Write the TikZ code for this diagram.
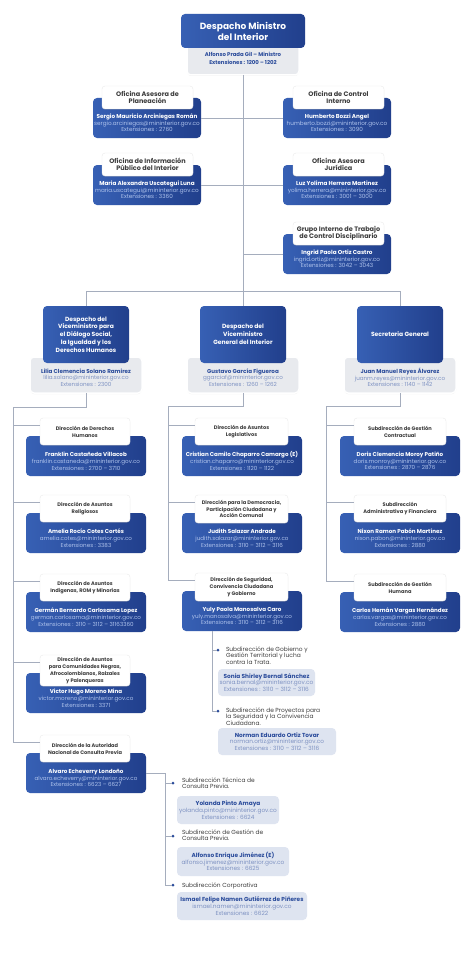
\documentclass[tikz,border=0pt]{standalone}
\usepackage{fontspec}
\setmainfont{Poppins}
\usetikzlibrary{shadows}
\definecolor{dblueL}{HTML}{3760B4}
\definecolor{dblueR}{HTML}{213F8C}
\definecolor{lblue}{HTML}{AFC3EC}
\definecolor{tblue}{HTML}{2B4C9B}
\definecolor{mblue}{HTML}{7E92C2}
\definecolor{conncol}{HTML}{A5ADBD}
\definecolor{greyf}{HTML}{E8EAEE}
\definecolor{subf}{HTML}{DEE4F0}
\definecolor{tabtxt}{HTML}{3D3D3D}
\newcommand\rowtabfont{\fontsize{6.5}{7.2}\selectfont\bfseries}
\newcommand\coltabfont{\fontsize{5.1}{6.8}\selectfont\bfseries}
\newcommand\pb[3]{\textbf{#1}\\{\color{lblue}#2}\\{\color{lblue}Extensiones : #3}}
\newcommand\pl[3]{{\color{tblue}\bfseries #1}\\{\color{mblue}#2}\\{\color{mblue}Extensiones : #3}}
\tikzset{
  every node/.style={inner sep=0pt, outer sep=0pt},
  bluebox/.style={rounded corners=4pt, left color=dblueL, right color=dblueR, draw=none},
  tabbox/.style={rounded corners=3pt, fill=white, draw=black!8, line width=0.4pt, text=tabtxt, align=center,
    drop shadow={opacity=0.18, shadow xshift=0pt, shadow yshift=-0.9pt}},
  greybox/.style={rounded corners=4pt, fill=greyf, draw=white, line width=1.5pt,
    drop shadow={opacity=0.15, shadow xshift=0pt, shadow yshift=-1pt}},
  subbox/.style={rounded corners=4pt, fill=subf, align=center, font=\fontsize{5.8}{6.8}\selectfont},
  conn/.style={draw=conncol, line width=0.6pt},
  dotn/.style={circle, fill=tblue, minimum size=3pt},
  rptxt/.style={align=center, text=white, font=\fontsize{5.7}{6.6}\selectfont},
  cptxt/.style={align=center, text=white, font=\fontsize{5.6}{6.8}\selectfont},
  lptxt/.style={align=center, font=\fontsize{5.6}{6.6}\selectfont},
  subtxt/.style={align=left, text=tabtxt, font=\fontsize{5.9}{6.6}\selectfont},
  vicetxt/.style={align=center, text=white, font=\fontsize{6.0}{7.7}\selectfont\bfseries},
}
% row unit: #1 name, #2 tab x, #3 body x, #4 top y, #5 tab text, #6 person
\newcommand\rowunit[6]{%
  \node[bluebox,anchor=north west,minimum width=108pt,minimum height=40pt] (#1b) at (#3,#4+12) {};
  \node[tabbox,anchor=north west,minimum width=91pt,minimum height=23pt,font=\rowtabfont] (#1t) at (#2,#4) {#5};
  \node[rptxt] (#1p) at (#3+54,#4+37) {#6};}
% column unit: #1 name, #2 tab x, #3 tab w, #4 body x, #5 tab top, #6 tab h, #7 tab text, #8 person
\newcommand\colunit[8]{%
  \node[bluebox,anchor=north west,minimum width=120pt,minimum height=40pt] (#1b) at (#4,#5+18) {};
  \node[tabbox,anchor=north west,minimum width=#3pt,minimum height=#6pt,font=\coltabfont] (#1t) at (#2,#5) {#7};
  \node[cptxt] (#1p) at (#4+60,#5+43) {#8};
  \coordinate (#1c) at ([yshift=-7pt]#1t.north west);}
\begin{document}
\begin{tikzpicture}[x=1pt,y=-1pt]
\useasboundingbox (0,0) rectangle (474,955);
\fill[white] (0,0) rectangle (474,955);

% ---- Minister
\node[greybox,anchor=north,minimum width=112pt,minimum height=31pt] (mg) at (243,44) {};
\node[bluebox,anchor=north,minimum width=124pt,minimum height=34pt,align=center,text=white,
  font=\fontsize{9.0}{11}\selectfont\bfseries] (mb) at (243,14) {Despacho Ministro\\del Interior};
\node[align=center,text=tblue,font=\fontsize{5.4}{7.6}\selectfont\bfseries] (mgt) at (243,58.5)
  {Alfonso Prada Gil – Ministro\\Extensiones : 1200 – 1202};
\coordinate (hub) at (243,291);

% ---- Offices
\rowunit{o1}{102}{93}{86}{Oficina Asesora de\\Planeación}
  {\pb{Sergio Mauricio Arciniegas Román}{sergio.arciniegas@mininterior.gov.co}{2760}}
\rowunit{o2}{293}{283}{86}{Oficina de Control\\Interno}
  {\pb{Humberto Bozzi Angel}{humberto.bozzi@mininterior.gov.co}{3090}}
\rowunit{o3}{102}{93}{153}{Oficina de Información\\Público del Interior}
  {\pb{Maria Alexandra Uscategui Luna}{maria.uscategui@mininterior.gov.co}{3360}}
\rowunit{o4}{293}{283}{153}{Oficina Asesora\\Jurídica}
  {\pb{Luz Yolima Herrera Martinez}{yolima.herrera@mininterior.gov.co}{3001 – 3000}}
\rowunit{o5}{293}{283}{222}{Grupo Interno de Trabajo\\de Control Disciplinario}
  {\pb{Ingrid Paola Ortiz Castro}{ingrid.ortiz@mininterior.gov.co}{3042 – 3043}}

\draw[conn] (mg.south) -- (hub);
\draw[conn] (o1b.east) -- (o1b.east -| hub);
\draw[conn] (o2b.west) -- (o2b.west -| hub);
\draw[conn] (o3b.east) -- (o3b.east -| hub);
\draw[conn] (o4b.west) -- (o4b.west -| hub);
\draw[conn] (o5b.west) -- (o5b.west -| hub);

% ---- Vice ministries
\node[greybox,anchor=north,minimum width=112pt,minimum height=36pt] (v1g) at (86,357) {};
\node[greybox,anchor=north,minimum width=112pt,minimum height=36pt] (v2g) at (243,357) {};
\node[greybox,anchor=north,minimum width=112pt,minimum height=36pt] (v3g) at (400,357) {};
\node[bluebox,anchor=north,minimum width=86pt,minimum height=57pt,vicetxt] (v1b) at (86,306)
  {Despacho del\\Viceministro para\\el Diálogo Social,\\la Igualdad y los\\Derechos Humanos};
\node[bluebox,anchor=north,minimum width=86pt,minimum height=57pt,vicetxt] (v2b) at (243,306)
  {Despacho del\\Viceministro\\General del Interior};
\node[bluebox,anchor=north,minimum width=86pt,minimum height=57pt,vicetxt] (v3b) at (400,306)
  {Secretaria General};
\node[lptxt] (v1p) at (86,377.5) {\pl{Lilia Clemencia Solano Ramirez}{lilia.solano@mininterior.gov.co}{2300}};
\node[lptxt] (v2p) at (243,377.5) {\pl{Gustavo García Figueroa}{ggarciaf@mininterior.gov.co}{1260 – 1262}};
\node[lptxt] (v3p) at (400,377.5) {\pl{Juan Manuel Reyes Álvarez}{juanm.reyes@mininterior.gov.co}{1140 – 1142}};
\draw[conn] (v1b.north) |- (hub);
\draw[conn] (hub) -| (v3b.north);
\draw[conn] (hub) -- (v2b.north);

% ---- Left column
\colunit{l1}{40}{90}{26}{418}{27}{Dirección de Derechos\\Humanos}
  {\pb{Franklin Castañeda Villacob}{franklin.castaneda@mininterior.gov.co}{2700 – 3710}}
\colunit{l2}{40}{90}{26}{495}{27}{Dirección de Asuntos\\Religiosos}
  {\pb{Amelia Rocío Cotes Cortés}{amelia.cotes@mininterior.gov.co}{3383}}
\colunit{l3}{40}{90}{26}{574}{27}{Dirección de Asuntos\\Indígenas, ROM y Minorías}
  {\pb{Germán Bernardo Carlosama Lopez}{german.carlosama@mininterior.gov.co}{3110 – 3112 – 31163360}}
\colunit{l4}{40}{90}{26}{655}{31}{Dirección de Asuntos\\para Comunidades Negras,\\Afrocolombianos, Raizales\\y Palenqueras}
  {\pb{Victor Hugo Moreno Mina}{victor.moreno@mininterior.gov.co}{3371}}
\colunit{l5}{40}{90}{26}{735}{27}{Dirección de la Autoridad\\Nacional de Consulta Previa}
  {\pb{Alvaro Echeverry Londoño}{alvaro.echeverry@mininterior.gov.co}{6623 – 6627}}
\coordinate (L0) at (13,407);
\draw[conn] (v1g.south) |- (L0) -- (L0 |- l5c) -- (l5c);
\foreach \n in {l1c,l2c,l3c,l4c} \draw[conn] (L0 |- \n) -- (\n);

% ---- Middle column
\colunit{m1}{195}{93}{182}{418}{27}{Dirección de Asuntos\\Legislativos}
  {\pb{Cristian Camilo Chaparro Camargo (E)}{cristian.chaparro@mininterior.gov.co}{1120 – 1122}}
\colunit{m2}{195}{93}{182}{495}{28}{Dirección para la Democracia,\\Participación Ciudadana y\\Acción Comunal}
  {\pb{Judith Salazar Andrade}{judith.salazar@mininterior.gov.co}{3110 – 3112 – 3116}}
\colunit{m3}{195}{93}{182}{573}{28}{Dirección de Seguridad,\\Convivencia Ciudadana\\y Gobierno}
  {\pb{Yuly Paola Manosalva Caro}{yuly.manosalva@mininterior.gov.co}{3110 – 3112 – 3116}}
\coordinate (M0) at (168,406);
\draw[conn] (v2g.south) |- (M0) -- (M0 |- m3c) -- (m3c);
\foreach \n in {m1c,m2c} \draw[conn] (M0 |- \n) -- (\n);

% ---- Right column
\colunit{r1}{354}{92}{340}{418}{27}{Subdirección de Gestión\\Contractual}
  {\pb{Doris Clemencia Moroy Patiño}{doris.monroy@mininterior.gov.co}{2870 – 2876}}
\colunit{r2}{354}{92}{340}{495}{27}{Subdirección\\Administrativa y Financiera}
  {\pb{Nixon Ramon Pabón Martínez}{nixon.pabon@mininterior.gov.co}{2880}}
\colunit{r3}{354}{92}{340}{574}{27}{Subdirección de Gestión\\Humana}
  {\pb{Carlos Hernán Vargas Hernández}{carlos.vargas@mininterior.gov.co}{2880}}
\coordinate (R0) at (326,406);
\draw[conn] (v3g.south) |- (R0) -- (R0 |- r3c) -- (r3c);
\foreach \n in {r1c,r2c} \draw[conn] (R0 |- \n) -- (\n);

% ---- Sub-units of Seguridad
\coordinate (sx) at (212,631);
\node[dotn] (y1d) at (218,650) {};
\node[dotn] (y2d) at (218,711) {};
\draw[conn] (sx) |- (y1d);
\draw[conn] (sx) |- (y2d);
\node[subtxt,anchor=north west] (y1s) at (226,646.5) {Subdirección de Gobierno y\\Gestión Territorial y lucha\\contra la Trata.};
\node[subbox,anchor=north west,minimum width=97pt,minimum height=27pt] (y1b) at (218,669)
  {\pl{Sonia Shirley Bernal Sánchez}{sonia.bernal@mininterior.gov.co}{3110 – 3112 – 3116}};
\node[subtxt,anchor=north west] (y2s) at (226,707.5) {Subdirección de Proyectos para\\la Seguridad y la Convivencia\\Ciudadana.};
\node[subbox,anchor=north west,minimum width=118pt,minimum height=27pt] (y2b) at (218,728)
  {\pl{Norman Eduardo Ortiz Tovar}{norman.ortiz@mininterior.gov.co}{3110 – 3112 – 3116}};

% ---- Sub-units of Consulta Previa
\coordinate (ax) at (165,773);
\node[dotn] (e1d) at (173,783) {};
\node[dotn] (e2d) at (173,836) {};
\node[dotn] (e3d) at (173,885) {};
\draw[conn] (l5b.east) -- (ax);
\draw[conn] (ax) |- (e1d);
\draw[conn] (ax) |- (e2d);
\draw[conn] (ax) |- (e3d);
\node[subtxt,anchor=north west] (e1s) at (182,777.5) {Subdirección Técnica de\\Consulta Previa.};
\node[subbox,anchor=north west,minimum width=102pt,minimum height=28pt] (e1b) at (177,796)
  {\pl{Yolanda Pinto Amaya}{yolanda.pinto@mininterior.gov.co}{6624}};
\node[subtxt,anchor=north west] (e2s) at (182,829.5) {Subdirección de Gestión de\\Consulta Previa.};
\node[subbox,anchor=north west,minimum width=112pt,minimum height=29pt] (e2b) at (177,847)
  {\pl{Alfonso Enrique Jiménez (E)}{alfonso.jimenez@mininterior.gov.co}{6625}};
\node[subtxt,anchor=west] (e3s) at (182,885.5) {Subdirección Corporativa};
\node[subbox,anchor=north west,minimum width=130pt,minimum height=28pt] (e3b) at (177,892)
  {\pl{Ismael Felipe Namen Gutiérrez de Piñeres}{ismael.namen@mininterior.gov.co}{6622}};
\end{tikzpicture}
\end{document}
